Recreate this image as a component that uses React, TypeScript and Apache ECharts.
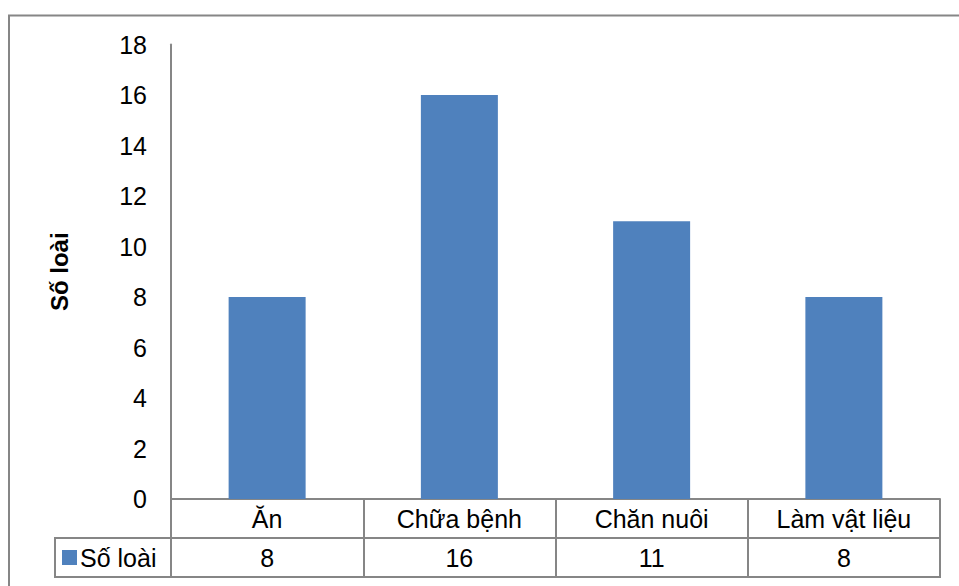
import React, { useEffect, useRef } from "react";
import * as echarts from "echarts";

// Uses of the recorded species, and how many species fall under each
const categories = ["Ăn", "Chữa bệnh", "Chăn nuôi", "Làm vật liệu"];
const seriesName = "Số loài";
const speciesCounts = [8, 16, 11, 8];
const yTicks = { min: 0, max: 18, interval: 2 };

const GRAY = "#868686";
const BLUE = "#4f81bd";
const FONT = "'Liberation Sans', Arial, sans-serif";
const LABEL_SIZE = 25;

export default function App() {
  const ref = useRef<HTMLDivElement>(null);

  useEffect(() => {
    if (!ref.current) return;
    const chart = echarts.init(ref.current, null, { renderer: "svg" });

    chart.setOption({
      animation: false,
      backgroundColor: "#ffffff",
      textStyle: { fontFamily: FONT },
      grid: { left: 171, right: 19, top: 44.5, bottom: 87, containLabel: false },
      legend: {
        data: [{ name: seriesName, icon: "rect" }],
        left: 62,
        top: 545,
        padding: 0,
        itemWidth: 15,
        itemHeight: 15,
        itemGap: 5,
        textStyle: {
          fontSize: LABEL_SIZE,
          color: "#000",
          fontFamily: FONT,
          padding: [0, 0, 0, -2],
        },
      },
      xAxis: [
        {
          type: "category",
          data: categories,
          position: "bottom",
          axisLine: { show: true, lineStyle: { color: GRAY, width: 2 } },
          axisTick: {
            show: true,
            interval: 0,
            inside: false,
            length: 78,
            lineStyle: { color: GRAY, width: 2 },
          },
          axisLabel: {
            interval: 0,
            margin: 7,
            fontSize: LABEL_SIZE,
            lineHeight: 25,
            color: "#000",
            fontFamily: FONT,
          },
          splitLine: { show: false },
        },
        {
          type: "category",
          data: speciesCounts.map((v) => String(v)),
          position: "bottom",
          offset: 39,
          axisLine: { show: true, lineStyle: { color: GRAY, width: 2 } },
          axisTick: { show: false },
          axisLabel: {
            interval: 0,
            margin: 7,
            fontSize: LABEL_SIZE,
            lineHeight: 25,
            color: "#000",
            fontFamily: FONT,
          },
          splitLine: { show: false },
        },
      ],
      yAxis: {
        type: "value",
        min: yTicks.min,
        max: yTicks.max,
        interval: yTicks.interval,
        name: seriesName,
        nameLocation: "middle",
        nameRotate: 90,
        nameGap: 100,
        nameTextStyle: { fontSize: 24, fontWeight: "bold", color: "#000", fontFamily: FONT },
        axisLine: { show: true, lineStyle: { color: GRAY, width: 2 } },
        axisTick: { show: false },
        axisLabel: { margin: 24, fontSize: LABEL_SIZE, color: "#000", fontFamily: FONT },
        splitLine: { show: false },
      },
      series: [
        {
          name: seriesName,
          type: "bar",
          xAxisIndex: 0,
          data: speciesCounts,
          barWidth: 77,
          itemStyle: { color: BLUE },
        },
      ],
      graphic: [
        // chart frame
        {
          type: "rect",
          shape: { x: 9, y: 15.5, width: 970, height: 600 },
          style: { fill: "none", stroke: GRAY, lineWidth: 2 },
          silent: true,
        },
        // legend cell of the data table
        {
          type: "rect",
          shape: { x: 55, y: 538, width: 116, height: 39 },
          style: { fill: "none", stroke: GRAY, lineWidth: 2 },
          silent: true,
        },
        // bottom edge of the data table
        {
          type: "line",
          shape: { x1: 171, y1: 577, x2: 941, y2: 577 },
          style: { stroke: GRAY, lineWidth: 2 },
          silent: true,
        },
      ],
    });

    return () => chart.dispose();
  }, []);

  return (
    <div
      ref={ref}
      style={{ position: "fixed", left: 0, top: 0, width: 959, height: 586, background: "#fff" }}
    />
  );
}
